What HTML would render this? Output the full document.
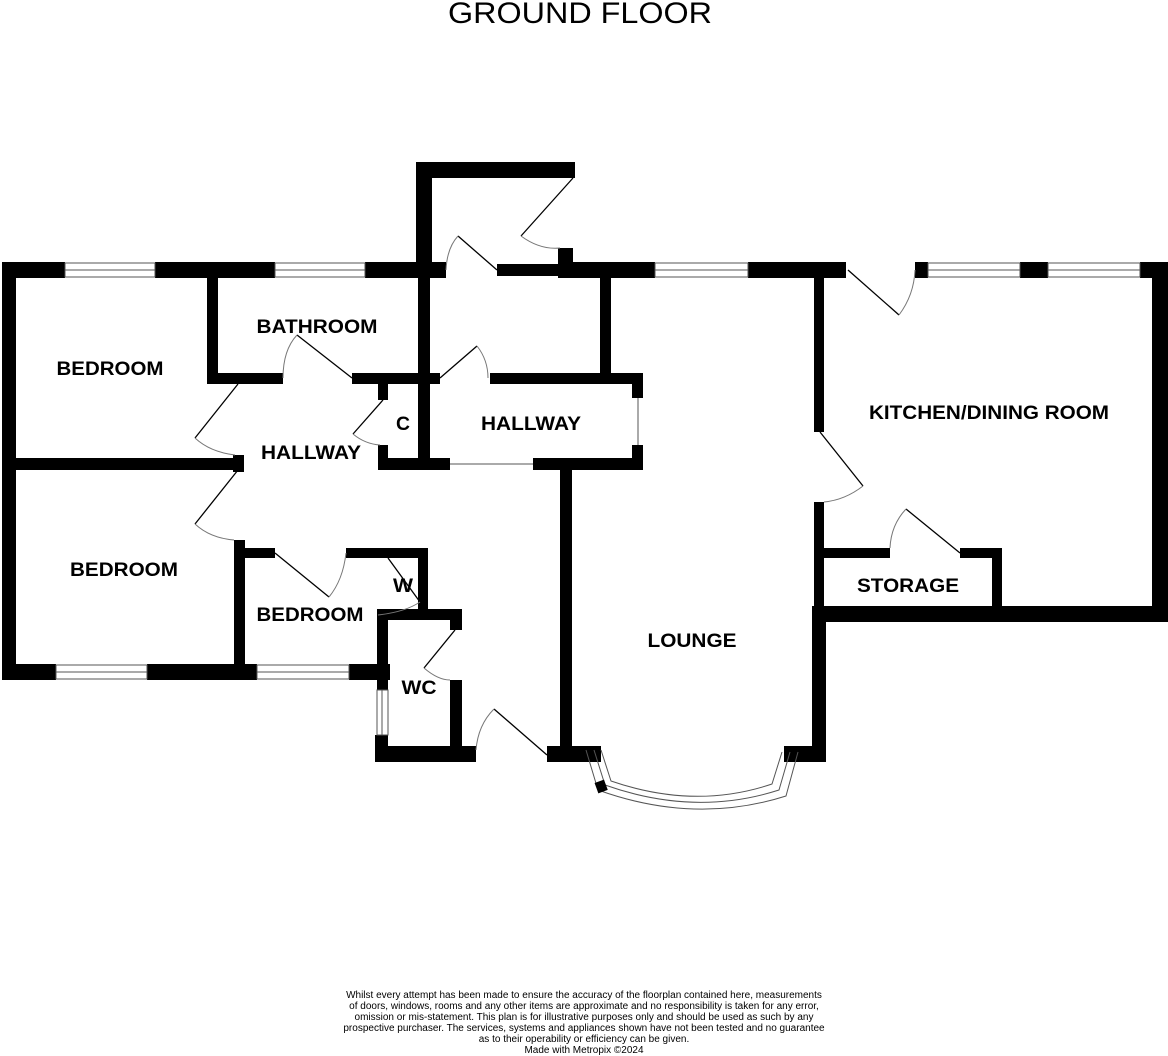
<!DOCTYPE html>
<html><head><style>
html,body{margin:0;padding:0;background:#fff;}
svg{display:block;}
</style></head><body>
<svg width="1168" height="1056" viewBox="0 0 1168 1056" xmlns="http://www.w3.org/2000/svg">
<text x="580" y="23" font-family="Liberation Sans, sans-serif" font-size="30" text-anchor="middle" fill="#000" textLength="264" lengthAdjust="spacingAndGlyphs">GROUND FLOOR</text>
<g fill="#000">
<rect x="2" y="262" width="63" height="16"/>
<rect x="155" y="262" width="120" height="16"/>
<rect x="365" y="262" width="81" height="16"/>
<rect x="497" y="264" width="63" height="12"/>
<rect x="558" y="248" width="15" height="30"/>
<rect x="560" y="262" width="95" height="16"/>
<rect x="748" y="262" width="98" height="16"/>
<rect x="915" y="262" width="13" height="16"/>
<rect x="1020" y="262" width="28" height="16"/>
<rect x="1140" y="262" width="28" height="16"/>
<rect x="416" y="162" width="16" height="116"/>
<rect x="416" y="162" width="159" height="16"/>
<rect x="2" y="262" width="14" height="418"/>
<rect x="2" y="664" width="54" height="16"/>
<rect x="147" y="664" width="110" height="16"/>
<rect x="349" y="664" width="41" height="16"/>
<rect x="2" y="458" width="241" height="12"/>
<rect x="233" y="455" width="11" height="17"/>
<rect x="207" y="278" width="11" height="106"/>
<rect x="207" y="373" width="76" height="11"/>
<rect x="352" y="373" width="88" height="11"/>
<rect x="418" y="278" width="12" height="192"/>
<rect x="378" y="384" width="10" height="16"/>
<rect x="378" y="445" width="10" height="25"/>
<rect x="378" y="458" width="72" height="12"/>
<rect x="490" y="373" width="153" height="11"/>
<rect x="632" y="373" width="11" height="25"/>
<rect x="632" y="445" width="11" height="25"/>
<rect x="533" y="458" width="110" height="12"/>
<rect x="600" y="278" width="11" height="106"/>
<rect x="560" y="458" width="12" height="302"/>
<rect x="547" y="746" width="54" height="16"/>
<rect x="784" y="746" width="42" height="16"/>
<rect x="812" y="606" width="14" height="156"/>
<rect x="814" y="278" width="10" height="154"/>
<rect x="814" y="502" width="10" height="110"/>
<rect x="824" y="548" width="66" height="10"/>
<rect x="960" y="548" width="42" height="10"/>
<rect x="992" y="548" width="10" height="64"/>
<rect x="812" y="606" width="356" height="16"/>
<rect x="1152" y="262" width="16" height="360"/>
<rect x="234" y="540" width="11" height="140"/>
<rect x="234" y="548" width="41" height="10"/>
<rect x="346" y="548" width="82" height="10"/>
<rect x="418" y="548" width="10" height="64"/>
<rect x="378" y="609" width="84" height="11"/>
<rect x="450" y="609" width="12" height="21"/>
<rect x="377" y="609" width="11" height="81"/>
<rect x="375" y="735" width="13" height="27"/>
<rect x="375" y="746" width="101" height="16"/>
<rect x="450" y="680" width="12" height="80"/>
</g>
<g fill="none" stroke="#555" stroke-width="1">
<rect x="65" y="263" width="90" height="14"/><line x1="65" y1="270" x2="155" y2="270"/>
<rect x="275" y="263" width="90" height="14"/><line x1="275" y1="270" x2="365" y2="270"/>
<rect x="655" y="263" width="93" height="14"/><line x1="655" y1="270" x2="748" y2="270"/>
<rect x="928" y="263" width="92" height="14"/><line x1="928" y1="270" x2="1020" y2="270"/>
<rect x="1048" y="263" width="92" height="14"/><line x1="1048" y1="270" x2="1140" y2="270"/>
<rect x="56" y="665" width="91" height="14"/><line x1="56" y1="672" x2="147" y2="672"/>
<rect x="257" y="665" width="92" height="14"/><line x1="257" y1="672" x2="349" y2="672"/>
<rect x="377" y="690" width="11" height="45"/><line x1="382" y1="690" x2="382" y2="735"/>
<line x1="638" y1="398" x2="638" y2="445"/>
<line x1="450" y1="464" x2="533" y2="464"/>
<path d="M586 750 L598 790 Q695 825 786 796 L798 752"/>
<path d="M594 750 L605 785 Q695 817 779 790 L790 752"/>
<path d="M601 750 L611 781 Q695 810 772 784 L782 752"/>
</g>
<rect x="596" y="781" width="10" height="11" fill="#000" transform="rotate(-20 601 786)"/>
<g fill="none" stroke="#000" stroke-width="1.3">
<line x1="573" y1="178" x2="521" y2="236"/>
<line x1="497" y1="270" x2="458" y2="236"/>
<line x1="352" y1="378" x2="297" y2="335"/>
<line x1="238" y1="384" x2="195" y2="438"/>
<line x1="383" y1="400" x2="353" y2="434"/>
<line x1="440" y1="378" x2="477" y2="346"/>
<line x1="238" y1="470" x2="195" y2="524"/>
<line x1="275" y1="553" x2="329" y2="597"/>
<line x1="388" y1="558" x2="420" y2="602"/>
<line x1="455" y1="630" x2="424" y2="668"/>
<line x1="547" y1="755" x2="494" y2="709"/>
<line x1="848" y1="270" x2="899" y2="315"/>
<line x1="820" y1="432" x2="863" y2="486"/>
<line x1="960" y1="553" x2="906" y2="509"/>
</g>
<g fill="none" stroke="#777" stroke-width="1">
<path d="M521 236 Q540 250 560 248"/>
<path d="M446 270 Q447 248 458 236"/>
<path d="M283 378 Q283 350 297 335"/>
<path d="M195 438 Q210 452 235 455"/>
<path d="M353 434 Q365 444 380 445"/>
<path d="M477 346 Q488 360 488 378"/>
<path d="M195 524 Q210 538 234 540"/>
<path d="M329 597 Q343 580 346 553"/>
<path d="M420 602 Q405 612 378 615"/>
<path d="M424 668 Q438 680 450 680"/>
<path d="M494 709 Q478 725 476 750"/>
<path d="M899 315 Q914 295 915 270"/>
<path d="M863 486 Q845 500 824 502"/>
<path d="M906 509 Q891 525 890 548"/>
</g>
<g font-family="Liberation Sans, sans-serif" font-weight="bold" font-size="19" text-anchor="middle" fill="#000" lengthAdjust="spacingAndGlyphs">
<text x="110" y="375" textLength="107" lengthAdjust="spacingAndGlyphs">BEDROOM</text>
<text x="317" y="333" textLength="121" lengthAdjust="spacingAndGlyphs">BATHROOM</text>
<text x="403" y="430" textLength="14" lengthAdjust="spacingAndGlyphs">C</text>
<text x="531" y="430" textLength="100" lengthAdjust="spacingAndGlyphs">HALLWAY</text>
<text x="311" y="459" textLength="100" lengthAdjust="spacingAndGlyphs">HALLWAY</text>
<text x="124" y="576" textLength="108" lengthAdjust="spacingAndGlyphs">BEDROOM</text>
<text x="310" y="621" textLength="107" lengthAdjust="spacingAndGlyphs">BEDROOM</text>
<text x="403" y="592" textLength="20" lengthAdjust="spacingAndGlyphs">W</text>
<text x="419" y="694" textLength="35" lengthAdjust="spacingAndGlyphs">WC</text>
<text x="692" y="647" textLength="89" lengthAdjust="spacingAndGlyphs">LOUNGE</text>
<text x="989" y="419" textLength="240" lengthAdjust="spacingAndGlyphs">KITCHEN/DINING ROOM</text>
<text x="908" y="592" textLength="102" lengthAdjust="spacingAndGlyphs">STORAGE</text>
</g>
<g font-family="Liberation Sans, sans-serif" font-size="10" text-anchor="middle" fill="#000">
<text x="584" y="998">Whilst every attempt has been made to ensure the accuracy of the floorplan contained here, measurements</text>
<text x="584" y="1009">of doors, windows, rooms and any other items are approximate and no responsibility is taken for any error,</text>
<text x="584" y="1020">omission or mis-statement. This plan is for illustrative purposes only and should be used as such by any</text>
<text x="584" y="1031">prospective purchaser. The services, systems and appliances shown have not been tested and no guarantee</text>
<text x="584" y="1042">as to their operability or efficiency can be given.</text>
<text x="584" y="1053">Made with Metropix ©2024</text>
</g>
</svg>
</body></html>
